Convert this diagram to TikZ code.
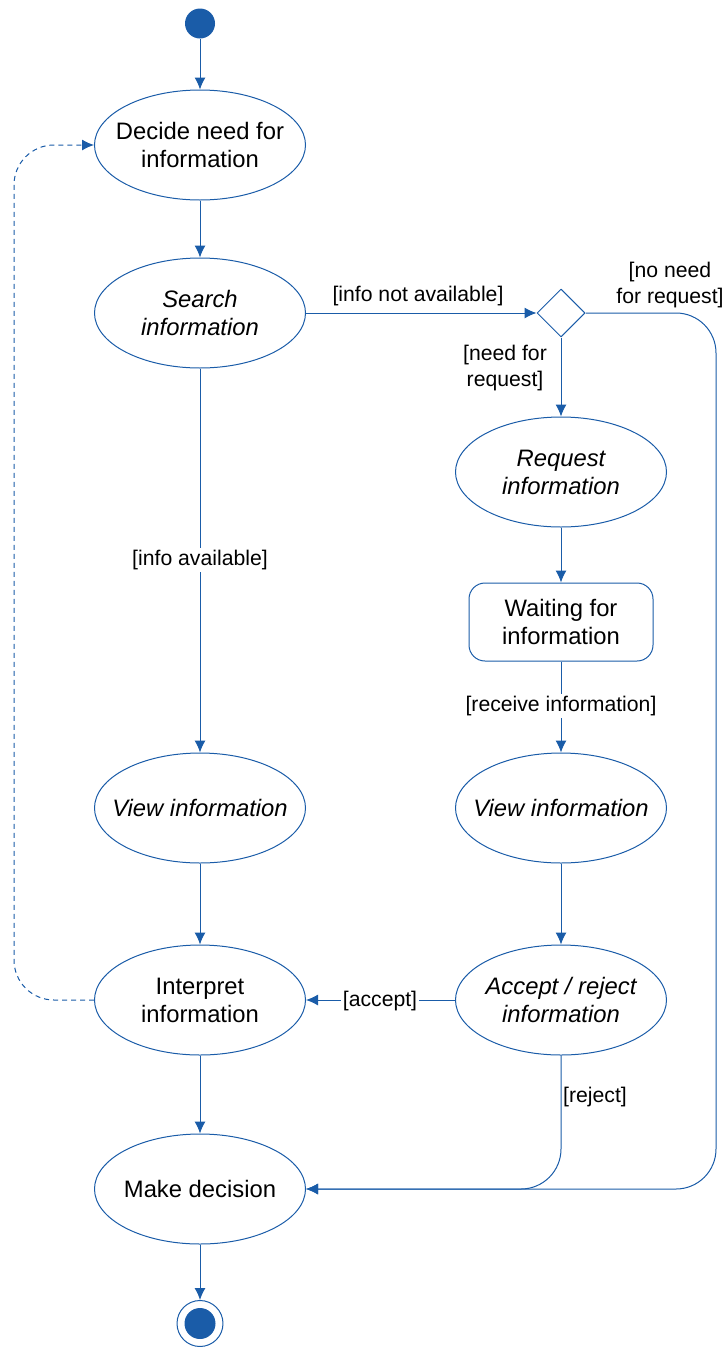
\documentclass[tikz,border=0pt]{standalone}
\usepackage{fontspec}
\setmainfont{Liberation Sans}
\usetikzlibrary{arrows.meta,shapes.geometric}
\definecolor{umlblue}{HTML}{1A5CA8}
\tikzset{activity/.style={ellipse,draw=umlblue,line width=1pt,minimum width=211pt,minimum height=110pt,inner xsep=-40pt,inner ysep=0pt,align=center,font=\fontsize{23.8}{28}\selectfont},waitstate/.style={rectangle,rounded corners=16pt,draw=umlblue,line width=1pt,minimum width=184pt,minimum height=78pt,inner sep=0pt,align=center,font=\fontsize{23.8}{28}\selectfont},choice/.style={diamond,draw=umlblue,line width=1pt,minimum size=48pt,inner sep=0pt},guard/.style={font=\fontsize{21.2}{26}\selectfont,align=center,inner sep=2pt},flow/.style={draw=umlblue,line width=1pt,-{Latex[length=12pt,width=11pt]}},every picture/.style={line join=round}}

\begin{document}
\begin{tikzpicture}[x=1pt,y=-1pt]
\useasboundingbox (0,0) rectangle (727,1347);
\node[circle,fill=umlblue,minimum size=30pt,inner sep=0pt] (start) at (200,23.5) {};
\node[activity] (decide) at (200,145) {Decide need for\\information};
\node[activity] (search) at (200,313) {\itshape Search\\\itshape information};
\node[choice] (ask) at (561,313) {};
\node[activity] (request) at (561,472) {\itshape Request\\\itshape information};
\node[waitstate] (wait) at (561,622) {Waiting for\\information};
\node[activity] (viewr) at (561,808) {\itshape View information};
\node[activity] (accept) at (561,1000) {\itshape Accept / reject\\\itshape information};
\node[activity] (viewl) at (200,808) {\itshape View information};
\node[activity] (interp) at (200,1000) {Interpret\\information};
\node[activity] (make) at (200,1189) {Make decision};
\node[circle,draw=umlblue,line width=1pt,minimum size=46pt,inner sep=0pt] (stop) at (200,1323.5) {};
\node[circle,fill=umlblue,minimum size=31pt,inner sep=0pt] at (stop) {};
\coordinate (turn) at (716,1189);
\coordinate (back) at (14,145);
% main flow
\draw[flow] (start)--(decide);
\draw[flow] (decide)--(search);
\draw[flow] (search)--(viewl);
\node[guard,fill=white] at (200,560) {[info available]};
\draw[flow] (viewl)--(interp);
\draw[flow] (interp)--(make);
\draw[flow] (make)--(stop);
% request branch
\draw[flow] (search.east)--(ask.west);
\node[guard,anchor=south] at (418,308) {[info not available]};
\draw[flow] (ask)--(request);
\node[guard] at (505,368) {[need for\\request]};
\draw[flow,rounded corners=40pt] (ask.east)-|(turn)--(make.east);
\node[guard,anchor=south] at (670,310) {[no need\\for request]};
\draw[flow] (request)--(wait);
\draw[flow] (wait)--(viewr);
\node[guard,fill=white] at (561,706) {[receive information]};
\draw[flow] (viewr)--(accept);
\draw[flow] (accept)--(interp);
\node[guard,fill=white] at (380,1001) {[accept]};
\draw[flow,rounded corners=40pt] (accept.south)|-(make.east);
\node[guard] at (595,1097) {[reject]};
% loop back
\draw[flow,dash pattern=on 5pt off 4pt,rounded corners=40pt] (interp.west)-|(back)--(decide.west);
\end{tikzpicture}
\end{document}
